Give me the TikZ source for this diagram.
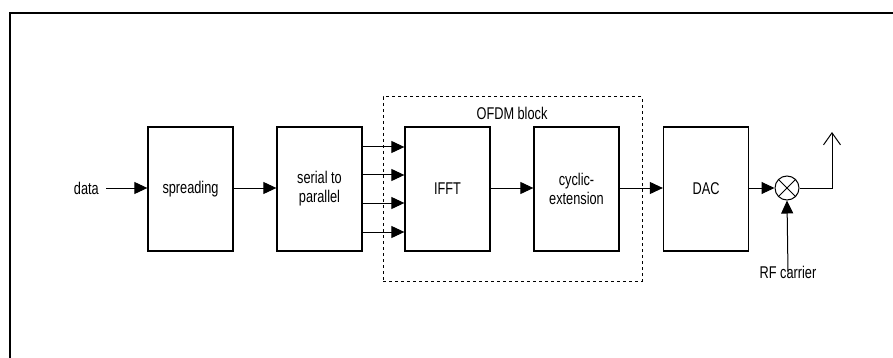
\documentclass[tikz,border=0pt]{standalone}
\usepackage{fontspec}
\setmainfont[FakeStretch=0.75]{Liberation Sans}
\usetikzlibrary{arrows.meta}
\begin{document}
\begin{tikzpicture}[x=1pt,y=-1pt,
  blk/.style={draw,line width=1.3pt,minimum width=85pt,minimum height=124pt,inner sep=0pt,align=center,font=\fontsize{17}{19}\selectfont},
  lbl/.style={inner sep=0pt,font=\fontsize{17}{19}\selectfont},
  arr/.style={line width=1pt,-{Triangle[length=13pt,width=12pt]}},
  frame/.style={line width=1.1pt}]
\useasboundingbox (0,0) rectangle (893,358);
% frame
\coordinate (ftop) at (893,13);
\coordinate (fcorner) at (10,13);
\coordinate (fbot) at (10,358);
\draw[frame] (ftop) -- (fcorner) -- (fbot);
% OFDM dashed block
\node[draw,dashed,line width=1pt,minimum width=259pt,minimum height=184pt,inner sep=0pt] (ofdm) at (512.5,189) {};
\node[lbl] (ofdmlbl) at (512,113) {OFDM block};
% blocks
\node[lbl,anchor=east] (data) at (99,188) {data};
\node[blk] (spr) at (190.5,189) {spreading};
\node[blk] (sp) at (319.5,189) {serial to\\parallel};
\node[blk] (ifft) at (447.5,189) {IFFT};
\node[blk] (cyc) at (576.5,189) {cyclic-\\extension};
\node[blk] (dac) at (706,189) {DAC};
\node[draw,circle,line width=1pt,minimum size=24pt,inner sep=0pt] (mix) at (787,188) {};
\draw[line width=0.9pt] (mix.north west) -- (mix.south east) (mix.north east) -- (mix.south west);
% connectors
\draw[arr] ([xshift=7pt]data.east) -- (spr.west |- data.east);
\draw[arr] (spr.east |- 0,188) -- (sp.west |- 0,188);
\foreach \yy in {147,175,203,232}{
  \draw[arr] (sp.east |- 0,\yy) -- (ifft.west |- 0,\yy);
}
\draw[arr] (ifft.east |- 0,188) -- (cyc.west |- 0,188);
\draw[arr] (cyc.east |- 0,188) -- (dac.west |- 0,188);
\draw[arr] (dac.east |- mix.west) -- (mix.west);
\coordinate (ant) at (832,132);
\coordinate (bend) at (832,188);
\draw[line width=1pt,-{Straight Barb[length=12pt,width=17pt]}] (mix.east) -- (bend) -- (ant);
\node[lbl] (rf) at (788,272) {RF carrier};
\draw[arr] ([yshift=-7pt]rf.north) -- (mix.south);
\end{tikzpicture}
\end{document}
